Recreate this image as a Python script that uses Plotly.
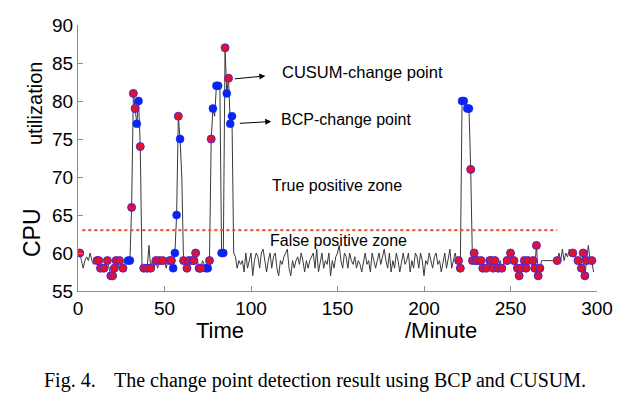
import plotly.graph_objects as go

# ---------------- data ----------------
cpu_util = [
    60, 60, 59, 58, 59, 59.5, 59, 60, 59, 58.5,          # 0-9
    59, 59, 59, 58, 58.5, 58, 58.5, 59, 58, 57,          # 10-19
    57, 58, 59, 58, 59, 58.5, 58, 59, 58.5, 59,          # 20-29
    59, 66, 81, 79, 77, 80, 74, 58, 58, 58,              # 30-39
    58, 61, 58, 59, 58, 59, 58, 59, 58.5, 59,            # 40-49
    59, 58, 59, 59, 59, 58, 60, 65, 78, 75,              # 50-59
    70, 59, 59, 58, 59, 59.5, 59, 59, 60, 59,            # 60-69
    58, 58, 59, 58.5, 58, 58, 59, 75, 79, 78,            # 70-79
    82, 82, 82, 60, 60, 87, 81, 83, 77, 78,              # 80-89
    60, 59.5, 58, 59, 58.5, 59, 57.5, 60, 58, 59,        # 90-99
    60, 57, 59, 60, 59.5, 58, 60, 60.5, 59, 57.5,        # 100-109
    59, 60, 58, 59.5, 60, 58, 57, 59, 58.5, 59.5,        # 110-119
    60, 60.5, 58, 57, 59, 58, 59, 59.5, 58.5, 60,        # 120-129
    59, 57.5, 59, 58, 59, 59.5, 60, 58, 60.5, 57.5,      # 130-139
    59, 60, 58, 59, 58.5, 60, 57, 59, 58, 59.5,          # 140-149
    60, 61, 59, 58, 60, 59.5, 58, 60, 59, 58.5,          # 150-159
    59.5, 58, 59, 58.5, 57.5, 59, 60, 58.5, 59, 57.5,    # 160-169
    60, 59, 58, 59, 60, 58.5, 59.5, 60.5, 59, 58,        # 170-179
    60, 57.5, 59, 58, 60, 59, 57.5, 59, 60, 58.5,        # 180-189
    59, 60, 57.5, 59, 58, 60, 59.5, 58, 60, 59,          # 190-199
    57, 59, 58.5, 60, 59, 58, 59.5, 60, 58.5, 59,        # 200-209
    57.5, 59, 60, 58, 59.5, 60.5, 58, 59, 60, 59,        # 210-219
    59, 58, 80, 80, 80, 79, 79, 71, 59, 60,              # 220-229
    59, 59, 58.5, 59, 58, 58.5, 58, 59, 59, 59,          # 230-239
    58, 59, 58.5, 58, 59, 58, 58.5, 59.5, 59, 59.5,      # 240-249
    60, 59, 59, 58.5, 58, 57, 58, 59.5, 59, 58,          # 250-259
    59, 59.5, 58.5, 59, 58, 61, 57, 58, 59, 59,          # 260-269
    59, 59, 59, 59, 59, 59, 59, 59, 60, 59,              # 270-279
    60.5, 59, 60, 59.5, 60.5, 59.5, 60, 59.5, 59.5, 59,  # 280-289
    59, 58, 60, 57, 59, 61, 59, 59, 57.5,                # 290-298
]
minutes = list(range(len(cpu_util)))

cusum_x = [1, 11, 12, 13, 15, 17, 19, 20, 21, 22, 24, 26, 31, 32, 33, 36, 38, 40, 42,
           45, 47, 49, 53, 54, 58, 61, 63, 64, 66, 67, 68, 70, 71, 76, 77, 85, 87,
           220, 221, 227, 228, 229, 230, 231, 233, 234, 236, 238, 239, 240, 241, 243,
           245, 248, 250, 252, 254, 255, 256, 258, 259, 260, 263, 264, 265, 266, 267,
           277, 286, 289, 291, 292, 293, 294, 297]
bcp_x = [29, 30, 34, 35, 55, 56, 57, 59, 74, 75, 78, 80, 81, 83, 84, 86, 88, 89,
         222, 223, 225, 226]
cusum_y = [cpu_util[i] for i in cusum_x]
bcp_y = [cpu_util[i] for i in bcp_x]

threshold = 63
threshold_x = [2.5, 277]

x_ticks = [0, 50, 100, 150, 200, 250, 300]
y_ticks = [55, 60, 65, 70, 75, 80, 85, 90]

SANS = "Liberation Sans, Arial, sans-serif"
SERIF = "Liberation Serif, Times New Roman, serif"

fig = go.Figure()
fig.add_trace(go.Scatter(x=minutes, y=cpu_util, mode="lines",
                         line=dict(color="#3a3a3a", width=1), showlegend=False))
fig.add_trace(go.Scatter(x=threshold_x, y=[threshold, threshold], mode="lines",
                         line=dict(color="#ee5a2a", width=2.2, dash="dot"), showlegend=False))
fig.add_trace(go.Scatter(x=bcp_x, y=bcp_y, mode="markers",
                         marker=dict(color="#0a24f5", size=8, line=dict(color="#0a24f5", width=0.5)),
                         showlegend=False))
fig.add_trace(go.Scatter(x=cusum_x, y=cusum_y, mode="markers",
                         marker=dict(color="#e3102e", size=8, line=dict(color="#4a2ad0", width=1)),
                         showlegend=False))

L, R, T, B = 78, 33, 25, 105
W, H = 630, 396
pw, ph = W - L - R, H - T - B


def px(xp):
    return (xp - L) / pw


def py(yp):
    return (H - B - yp) / ph


ann = []


def text(t, xp, yp, size, xanchor="left", angle=0, font=SANS):
    ann.append(dict(text=t, x=px(xp), y=py(yp), xref="paper", yref="paper",
                    xanchor=xanchor, yanchor="middle", showarrow=False, textangle=angle,
                    font=dict(family=font, size=size, color="black")))


text("CUSUM-change point", 280, 72, 16.5)
text("BCP-change point", 279, 120, 16)
text("True positive zone", 270, 185, 16)
text("False positive zone", 268, 240, 16)
text("Time", 220, 330, 22, xanchor="center")
text("/Minute", 441, 330, 22, xanchor="center")
text("CPU", 32, 233, 23, xanchor="center", angle=-90)
text("utilization", 35, 104, 20, xanchor="center", angle=-90)
text("Fig. 4.", 42, 380, 20, font=SERIF)
text("The change point detection result using BCP and CUSUM.", 112, 380, 20, font=SERIF)

# arrows (head at x,y ; tail at ax,ay) in data coordinates
for head, tail in [((108.3, 83.3), (89.8, 82.9)), ((111.7, 77.3), (92.7, 77.05))]:
    ann.append(dict(x=head[0], y=head[1], ax=tail[0], ay=tail[1], xref="x", yref="y",
                    axref="x", ayref="y", text="", showarrow=True, arrowhead=2,
                    arrowsize=1.2, arrowwidth=1, arrowcolor="black"))

axis_common = dict(showgrid=False, zeroline=False, showline=True, linecolor="#8c8c8c",
                   linewidth=1, ticks="inside", ticklen=5, tickcolor="#8c8c8c",
                   tickfont=dict(family=SANS, size=19, color="black"), mirror=False)

fig.update_layout(
    width=W, height=H, margin=dict(l=L, r=R, t=T, b=B),
    paper_bgcolor="white", plot_bgcolor="white",
    xaxis=dict(range=[0, 300], tickvals=x_ticks, **axis_common),
    yaxis=dict(range=[55, 90], tickvals=y_ticks, **axis_common),
    annotations=ann,
)

fig.write_html("out.html", config={"displayModeBar": False},
               post_script="document.body.style.margin='0px';document.body.style.overflow='hidden';")
